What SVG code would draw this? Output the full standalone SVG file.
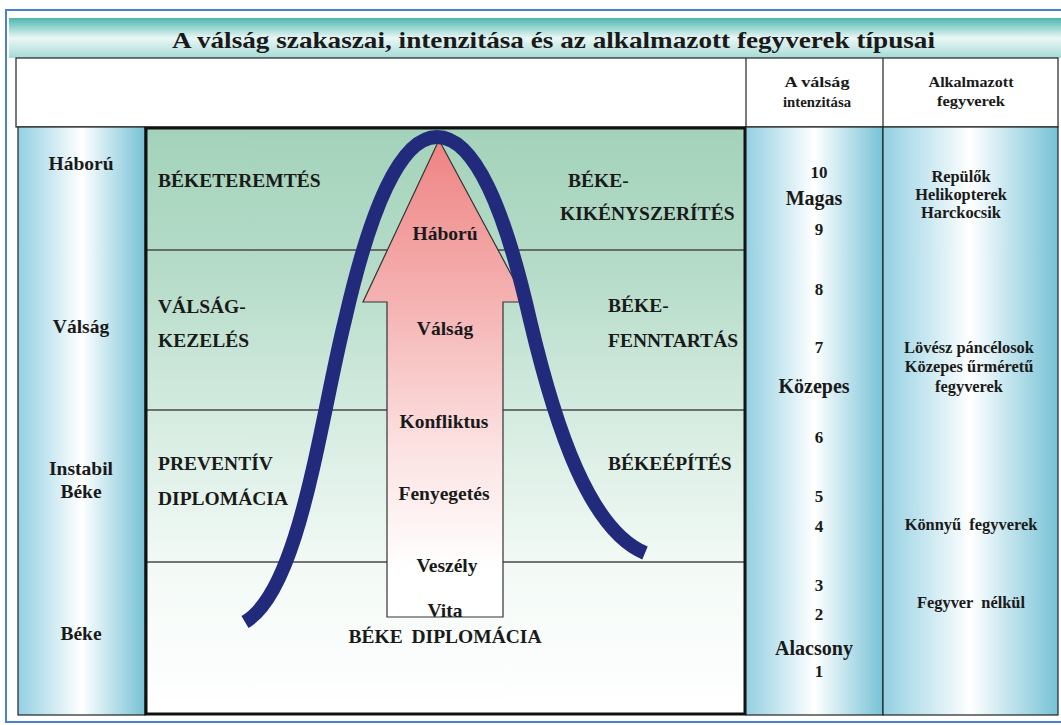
<svg xmlns="http://www.w3.org/2000/svg" width="1061" height="725" viewBox="0 0 1061 725" font-family="'Liberation Serif', 'Times New Roman', serif">
<defs>
<linearGradient id="colGrad" x1="0" y1="0" x2="1" y2="0">
<stop offset="0" stop-color="#93d0e2"/>
<stop offset="0.5" stop-color="#ffffff"/>
<stop offset="1" stop-color="#76c2d6"/>
</linearGradient>
<linearGradient id="mainGrad" x1="0" y1="127" x2="0" y2="715" gradientUnits="userSpaceOnUse">
<stop offset="0" stop-color="#a3d2ba"/>
<stop offset="0.25" stop-color="#b6dcc9"/>
<stop offset="0.5" stop-color="#d6ece1"/>
<stop offset="0.75" stop-color="#f3faf6"/>
<stop offset="1" stop-color="#ffffff"/>
</linearGradient>
<linearGradient id="arrowGrad" x1="0" y1="137" x2="0" y2="617" gradientUnits="userSpaceOnUse">
<stop offset="0" stop-color="#ee8282"/>
<stop offset="0.35" stop-color="#f5b3b3"/>
<stop offset="0.65" stop-color="#fce2e2"/>
<stop offset="0.9" stop-color="#ffffff"/>
</linearGradient>
<linearGradient id="titleGrad" x1="0" y1="0" x2="0" y2="1">
<stop offset="0" stop-color="#4cb6ac"/>
<stop offset="0.5" stop-color="#eaf7f6"/>
<stop offset="1" stop-color="#a6dbd6"/>
</linearGradient>
<style>
text{font-family:'Liberation Serif','Times New Roman',serif;font-weight:bold;fill:#1a1a1a;}
.lbl{font-size:19.5px;}
.c{text-anchor:middle;}
.hd{font-size:15.5px;}
.sm{font-size:16.4px;}
.num{font-size:17px;}
.lv{font-size:20px;}
.band{stroke:#4a4a4a;stroke-width:1.3;fill:none;}
.thin{stroke:#222;stroke-width:1.2;fill:none;}
</style>
</defs>
<rect width="1061" height="725" fill="#ffffff"/>
<rect x="6" y="10" width="1070" height="712" fill="none" stroke="#4b7fd1" stroke-width="2"/>

<g id="title">
<rect x="9" y="18" width="1052" height="40" fill="url(#titleGrad)"/>
<text x="172" y="48" font-size="24" textLength="763" lengthAdjust="spacingAndGlyphs">A válság szakaszai, intenzitása és az alkalmazott fegyverek típusai</text>
</g>

<g id="header">
<rect x="16" y="58" width="1042" height="69" fill="#ffffff" stroke="#222" stroke-width="1.2"/>
<line x1="746" y1="58" x2="746" y2="127" class="thin"/>
<line x1="883" y1="58" x2="883" y2="127" class="thin"/>
<text x="817" y="87" class="c hd" textLength="65" lengthAdjust="spacingAndGlyphs">A válság</text>
<text x="817" y="107" class="c hd" textLength="68" lengthAdjust="spacingAndGlyphs">intenzitása</text>
<text x="971" y="87" class="c hd" textLength="85" lengthAdjust="spacingAndGlyphs">Alkalmazott</text>
<text x="971" y="106" class="c hd" textLength="68" lengthAdjust="spacingAndGlyphs">fegyverek</text>
</g>

<g id="left-column">
<rect x="18" y="127" width="127" height="588" fill="url(#colGrad)" stroke="#222" stroke-width="1.2"/>
<text x="81" y="170" class="c lbl">Háború</text>
<text x="81" y="333" class="c lbl">Válság</text>
<text x="81" y="475" class="c lbl">Instabil</text>
<text x="81" y="498" class="c lbl">Béke</text>
<text x="81" y="640" class="c lbl">Béke</text>
</g>

<g id="main-panel">
<rect x="146" y="128" width="599" height="586" fill="url(#mainGrad)"/>
<line x1="146" y1="250" x2="745" y2="250" class="band"/>
<line x1="146" y1="410" x2="745" y2="410" class="band"/>
<line x1="146" y1="562" x2="745" y2="562" class="band"/>
<rect x="146" y="128" width="599" height="586" fill="none" stroke="#111" stroke-width="3"/>
</g>

<g id="phase-labels">
<text x="158" y="187" class="lbl">BÉKETEREMTÉS</text>
<text x="158" y="313" class="lbl">VÁLSÁG-</text>
<text x="158" y="347" class="lbl">KEZELÉS</text>
<text x="158" y="470" class="lbl">PREVENTÍV</text>
<text x="158" y="505" class="lbl">DIPLOMÁCIA</text>
<text x="568" y="187" class="lbl">BÉKE-</text>
<text x="560" y="220" class="lbl">KIKÉNYSZERÍTÉS</text>
<text x="608" y="312" class="lbl">BÉKE-</text>
<text x="608" y="347" class="lbl">FENNTARTÁS</text>
<text x="608" y="470" class="lbl">BÉKEÉPÍTÉS</text>
<text x="445" y="643" class="c lbl" word-spacing="4">BÉKE DIPLOMÁCIA</text>
</g>

<g id="arrow">
<path d="M387,617 L387,302 L363,302 L439,140 L526,302 L503,302 L503,617 Z" fill="url(#arrowGrad)" stroke="#333" stroke-width="1.2"/>
<text x="445" y="240" class="c lbl">Háború</text>
<text x="445" y="335" class="c lbl">Válság</text>
<text x="444" y="428" class="c lbl">Konfliktus</text>
<text x="444" y="500" class="c lbl">Fenyegetés</text>
<text x="447" y="572" class="c lbl">Veszély</text>
<text x="445" y="617" class="c lbl">Vita</text>
</g>

<g id="curve">
<path d="M245,622 C300,590 320,420 345,320 C370,210 400,137 437,137 C475,137 505,210 530,320 C556,430 590,530 645,553" fill="none" stroke="#222a7c" stroke-width="14"/>
</g>

<g id="intensity-column">
<rect x="746" y="127" width="137" height="588" fill="url(#colGrad)" stroke="#222" stroke-width="1.2"/>
<text x="819" y="178" class="c num">10</text>
<text x="814" y="205" class="c lv">Magas</text>
<text x="819" y="235" class="c num">9</text>
<text x="819" y="295" class="c num">8</text>
<text x="819" y="353" class="c num">7</text>
<text x="814" y="393" class="c lv">Közepes</text>
<text x="819" y="443" class="c num">6</text>
<text x="819" y="502" class="c num">5</text>
<text x="819" y="532" class="c num">4</text>
<text x="819" y="591" class="c num">3</text>
<text x="819" y="620" class="c num">2</text>
<text x="814" y="655" class="c lv">Alacsony</text>
<text x="819" y="677" class="c num">1</text>
</g>

<g id="weapons-column">
<rect x="883" y="127" width="175" height="588" fill="url(#colGrad)" stroke="#222" stroke-width="1.2"/>
<text x="961" y="182" class="c sm">Repülők</text>
<text x="961" y="200" class="c sm">Helikopterek</text>
<text x="961" y="218" class="c sm">Harckocsik</text>
<text x="969" y="353" class="c sm">Lövész páncélosok</text>
<text x="969" y="372" class="c sm">Közepes űrméretű</text>
<text x="969" y="392" class="c sm">fegyverek</text>
<text x="971" y="530" class="c sm" xml:space="preserve">Könnyű  fegyverek</text>
<text x="971" y="608" class="c sm" xml:space="preserve">Fegyver  nélkül</text>
</g>
</svg>
